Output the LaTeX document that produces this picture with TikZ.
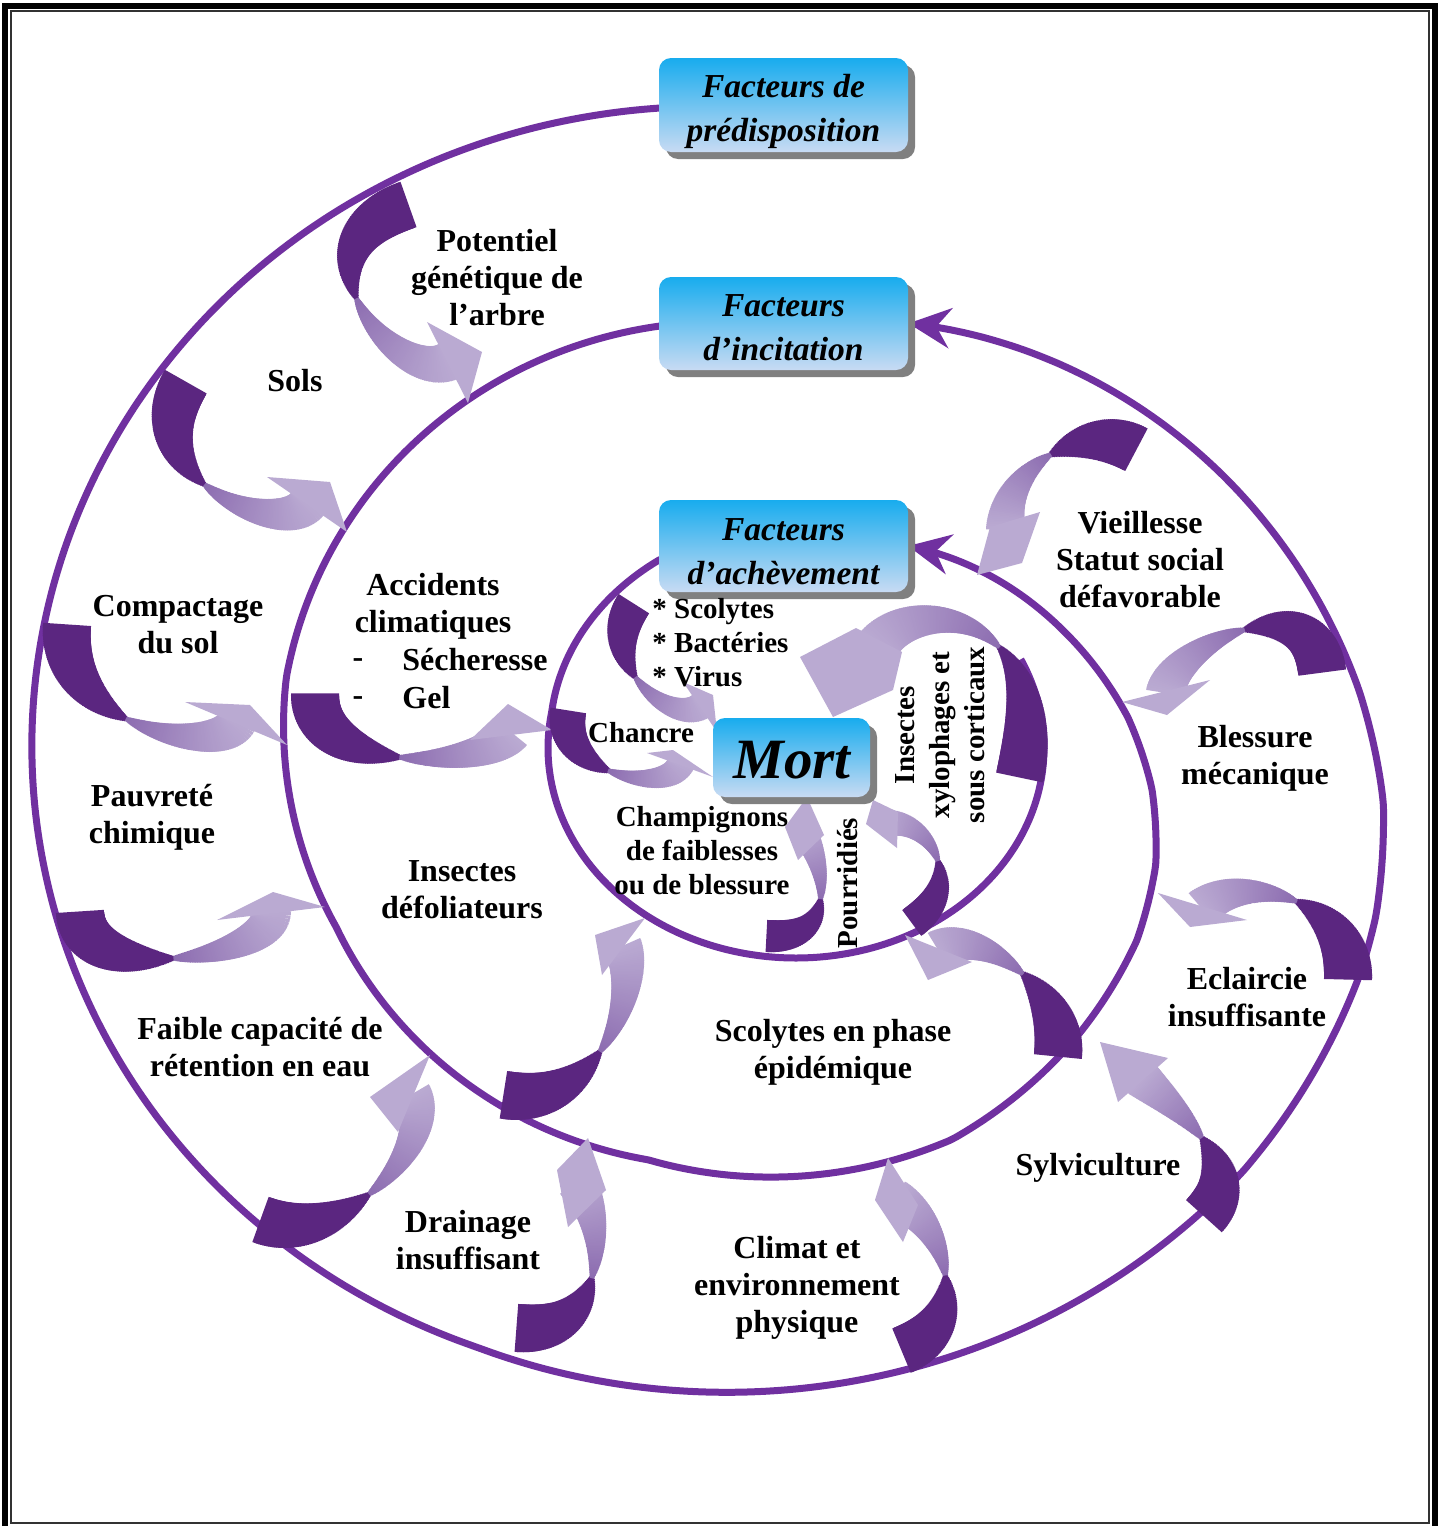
\documentclass[tikz,border=0pt]{standalone}
\usepackage{fontspec}
\setmainfont{Liberation Serif}
\usetikzlibrary{decorations.markings,arrows.meta,shadows}
\pgfdeclarelayer{bg}
\pgfsetlayers{bg,main}
\definecolor{curvec}{RGB}{112,48,160}
\definecolor{adark}{RGB}{91,38,128}
\definecolor{amid}{RGB}{140,108,176}
\definecolor{alight}{RGB}{186,170,210}
\definecolor{boxtop}{RGB}{24,172,238}
\definecolor{boxbot}{RGB}{200,219,243}
\definecolor{shadowc}{RGB}{128,128,128}
\definecolor{framec}{RGB}{50,50,50}
\newcommand\rwa{12}\newcommand\rwb{10}\newcommand\rwp{1}
\newcommand\ribseg{%
  \pgfmathsetmacro\pp{\pgfkeysvalueof{/pgf/decoration/mark info/distance from start}/\pgfdecoratedpathlength}%
  \ifdim\pp pt<0.5pt
    \pgfmathsetmacro\ww{\rwp+(\rwa-\rwp)*(1-(\pp/0.5)^2)}%
    \fill[adark] (-0.8pt,-\ww pt) rectangle (0.8pt,\ww pt);%
  \else
    \pgfmathsetmacro\ww{\rwp+(\rwb-\rwp)*((\pp-0.5)/0.5)^0.8}%
    \pgfmathsetmacro\cc{min(100,100*(\pp-0.5)/0.5)}%
    \fill[fill=alight!\cc!amid] (-0.8pt,-\ww pt) rectangle (0.8pt,\ww pt);%
  \fi}
\newcommand\ribbon[5]{%
  \path[decorate,decoration={markings,mark=between positions 0 and 1 step 0.8pt with {\ribseg}}] #1 .. controls #2 and #3 .. #4;
  \fill[alight] #5 -- cycle;}
\tikzset{
  declare function={
    fo(\a)=0.99+0.0005*max(0,\a-250)-0.00075*max(0,\a-320)-0.00075*max(0,\a-340)-0.001*max(0,\a-345)-0.0015*max(0,\a-355)-0.0005*max(0,\a-365);
    fm(\a)=1.01-0.001086*max(0,\a-170)+0.001086*max(0,\a-205)+0.00195*max(0,\a-260)-0.00195*max(0,\a-300)-0.000333*max(0,\a-320)-0.001667*max(0,\a-335)-0.002*max(0,\a-345)-0.0015*max(0,\a-355)-0.00117*max(0,\a-365)+0.00017*max(0,\a-380);
    fi(\a)=1.0+0.052*max(0,170-\a)/48.4;
  },
  spiral/.style={draw=curvec, line width=3.5pt},
  tipstyle/.style={-{Stealth[length=21pt,width=20pt,inset=7pt]}},
  factbox/.style={rounded corners=6pt, top color=boxtop, bottom color=boxbot, draw=none, inner sep=0pt,
    drop shadow={shadow xshift=3.5pt, shadow yshift=-3.5pt, fill=shadowc, opacity=1}},
  boxtext/.style={align=center, inner sep=0pt, font=\fontsize{16.75}{22}\selectfont\bfseries\itshape},
  lab/.style={align=center, inner sep=0pt, font=\fontsize{16}{18.5}\selectfont\bfseries},
  slab/.style={align=center, inner sep=0pt, font=\fontsize{14.5}{17}\selectfont\bfseries},
}
\begin{document}
\begin{tikzpicture}[x=0.5pt,y=-0.5pt]
\useasboundingbox (0,0) rectangle (1441,1526);
\begin{pgfonlayer}{bg}
\fill[white] (0,0) rectangle (1441,1526);
\end{pgfonlayer}
\draw[black, line width=3pt] (5,6) rectangle (1434.5,1529);
\draw[framec, line width=1pt] (10.5,11) rectangle (1428.5,1523);

% boxes
\node[factbox, minimum width=124.5pt, minimum height=47pt] (b1) at (783.5,105) {};
\node[factbox, minimum width=124.5pt, minimum height=46.5pt] (b2) at (783.5,323.5) {};
\node[factbox, minimum width=124.5pt, minimum height=46pt] (b3) at (783.5,546) {};
\node[factbox, minimum width=78.5pt, minimum height=39.5pt] (mort) at (791.5,757.5) {};
\node[boxtext] (b1t) at (783.5,111.5) {Facteurs de\\prédisposition};
\node[boxtext] (b2t) at (783.5,328) {Facteurs\\d’incitation};
\node[boxtext] (b3t) at (783.5,551.5) {Facteurs\\d’achèvement};
\node[boxtext, font=\fontsize{28.5}{30}\selectfont\bfseries\itshape] (mortt) at (792,760) {Mort};

\begin{pgfonlayer}{bg}
% spiral curves
\draw[spiral, tipstyle] (b1.west) -- plot[domain=94:425.7, samples=300, variable=\t, smooth] ({707+682*fo(\t)*cos(\t)},{746-646*fo(\t)*sin(\t)});
\draw[spiral, tipstyle] (b2.west) -- plot[domain=98:408.7, samples=300, variable=\t, smooth] ({722+438*fm(\t)*cos(\t)},{752-426*fm(\t)*sin(\t)});
\draw[spiral] ([yshift=-7pt]b3.west) -- plot[domain=121.6:385, samples=200, variable=\t, smooth] ({796+248*fi(\t)*cos(\t)},{748-210*fi(\t)*sin(\t)});

% ribbons outer ring
\ribbon{(407,205)}{(280,250)}{(399,386)}{(449,361)}{(427,322) -- (482,352) -- (468,403)}
\ribbon{(185,383)}{(130,480)}{(282,540)}{(308,503)}{(267,477) -- (330,482) -- (347,532)}
\ribbon{(67,626)}{(60,730)}{(221,758)}{(237,721.5)}{(185,702) -- (250,705) -- (287,745)}
\ribbon{(80,913)}{(85,990)}{(276,956)}{(271,911.5)}{(217,920) -- (273,892) -- (325,907)}
\ribbon{(262,1220)}{(345,1250)}{(440,1140)}{(412,1095)}{(430,1055) -- (370,1097) -- (398,1132)}
\ribbon{(518,1328)}{(610,1335)}{(607,1221)}{(576,1182)}{(568,1227) -- (557,1170) -- (588,1138) -- (606,1190)}
\ribbon{(903,1350)}{(975,1320)}{(945,1225)}{(897,1200)}{(888,1158) -- (875,1200) -- (903,1242) -- (918,1205)}
\ribbon{(1205,1215)}{(1250,1165)}{(1175,1108)}{(1141,1078)}{(1100,1042) -- (1118,1102) -- (1168,1058)}
\ribbon{(1348,978)}{(1350,900)}{(1245,870)}{(1202,908)}{(1158,893) -- (1190,927) -- (1247,920)}
\ribbon{(1322,671)}{(1310,580)}{(1172,647)}{(1166,692)}{(1122,702) -- (1167,715) -- (1210,680)}
\ribbon{(1135,449)}{(1080,420)}{(1003,470)}{(1006,528)}{(1040,512) -- (1022,563) -- (977,575) -- (990,527)}
% middle ring
\ribbon{(315,695)}{(315,775)}{(484,769)}{(511,733)}{(470,740) -- (508,704) -- (552,730)}
\ribbon{(505,1095)}{(600,1110)}{(642,986)}{(622,946)}{(602,975) -- (595,935) -- (645,918)}
\ribbon{(1058,1055)}{(1065,985)}{(975,925)}{(938,950)}{(905,935) -- (928,980) -- (972,962)}
% inner ring
\renewcommand\rwa{9}\renewcommand\rwb{7}
\ribbon{(633,605)}{(595,665)}{(672,726)}{(701,706)}{(683,682) -- (713,695) -- (717,732)}
\ribbon{(568,712)}{(558,775)}{(669,796)}{(681,763)}{(647,753) -- (673,750) -- (713,777)}
\renewcommand\rwa{8}\renewcommand\rwb{7}
\ribbon{(768,936)}{(845,940)}{(821,855)}{(802,830)}{(798,860) -- (785,827) -- (807,797) -- (824,835)}
\ribbon{(913,922)}{(970,880)}{(925,815)}{(884,824)}{(873,800) -- (866,824) -- (897,848) -- (898,812)}
\renewcommand\rwa{12}\renewcommand\rwb{11}
\ribbon{(1020,776)}{(1055,610)}{(915,595)}{(878,645)}{(856,628) -- (800,657) -- (833,717) -- (893,690) -- (902,652)}
\end{pgfonlayer}

% labels
\node[lab] (pot) at (497,277.5) {Potentiel\\génétique de\\l’arbre};
\node[lab] (sols) at (295,381) {Sols};
\node[lab] (comp) at (178,624.5) {Compactage\\du sol};
\node[lab] (pauv) at (152,817.5) {Pauvreté\\chimique};
\node[lab] (faib) at (260,1047.5) {Faible capacité de\\rétention en eau};
\node[lab] (drain) at (468,1240.5) {Drainage\\insuffisant};
\node[lab] (clim) at (797,1287.5) {Climat et\\environnement\\physique};
\node[lab] (sylv) at (1098,1168) {Sylviculture};
\node[lab] (ecl) at (1247,997) {Eclaircie\\insuffisante};
\node[lab] (bles) at (1255,758.5) {Blessure\\mécanique};
\node[lab] (vieil) at (1140,559.5) {Vieillesse\\Statut social\\défavorable};
\node[lab] (acc) at (433,606.5) {Accidents\\climatiques};
\node[lab] (d1) at (358,663) {-};
\node[lab, anchor=west] (sech) at (402,660) {Sécheresse};
\node[lab] (d2) at (358,701) {-};
\node[lab, anchor=west] (gel) at (402,698) {Gel};
\node[lab] (insd) at (462,890) {Insectes\\défoliateurs};
\node[lab] (scol) at (833,1052) {Scolytes en phase\\épidémique};
\node[slab, anchor=west, align=left] (list) at (652,643) {* Scolytes\\* Bactéries\\* Virus};
\node[slab] (chan) at (641,733) {Chancre};
\node[slab] (champ) at (702,851) {Champignons\\de faiblesses\\ou de blessure};
\node[slab, rotate=90] (pourr) at (848,883) {Pourridiés};
\node[slab, rotate=90, font=\fontsize{14.5}{17.5}\selectfont\bfseries] (xylo) at (940,735) {Insectes\\xylophages et\\sous corticaux};
\end{tikzpicture}
\end{document}
